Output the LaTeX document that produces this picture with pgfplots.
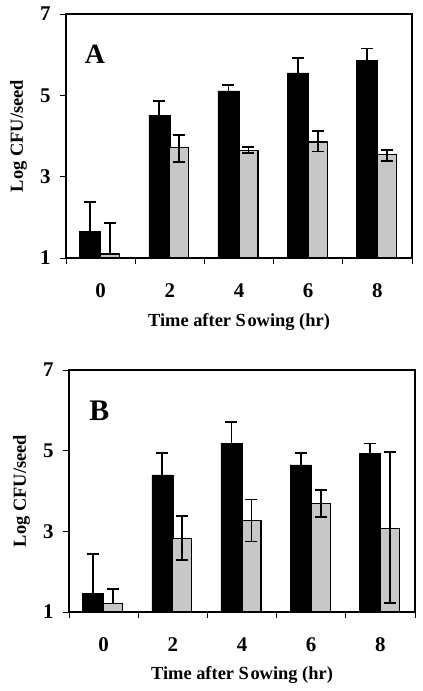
\documentclass[border=0pt]{standalone}
\usepackage{pgfplots}
\pgfplotsset{compat=1.18}
\usepackage{fontspec}
\setmainfont{Liberation Serif}
\definecolor{bargray}{rgb}{0.78,0.78,0.78}
\pgfplotsset{
  panel/.style={
    scale only axis,
    anchor=south west,
    xmin=-0.5, xmax=4.5,
    ymin=1, ymax=7,
    ytick={1,3,5,7},
    xtick={0,1,2,3,4},
    xticklabels={0,2,4,6,8},
    minor xtick={-0.5,0.5,1.5,2.5,3.5,4.5},
    tick pos=left,
    tick align=outside,
    major tick length=6bp,
    minor tick length=6bp,
    every major x tick/.append style={draw=none},
    axis line style={line width=1.4pt},
    every tick/.append style={line width=0.9pt, black},
    /pgf/number format/assume math mode=true,
    tick label style={font=\bfseries\fontsize{21}{21}\selectfont},
    xticklabel style={yshift=-16bp},
    yticklabel style={xshift=-6bp},
    label style={font=\bfseries\fontsize{18.5}{18.5}\selectfont},
    xlabel={Time after S\kern1.5pt owing (hr)},
    ylabel={Log CFU/seed},
    xlabel style={at={(axis description cs:0.5,-0.262)}, anchor=center},
    ylabel style={at={(axis description cs:-0.137,0.5)}, anchor=center},
    ybar,
    clip=true,
  },
  blackbar/.style={draw=black, fill=black, bar width=21bp, bar shift=-10.5bp,
    error bars/.cd, y dir=plus, y explicit,
    error bar style={line width=1.8pt, black},
    error mark options={rotate=90, line width=1.8pt, mark size=6bp, black}},
  graybar/.style={draw=black, line width=1.2pt, fill=bargray, bar width=19bp, bar shift=9.5bp,
    error bars/.cd, y dir=both, y explicit,
    error bar style={line width=1.8pt, black},
    error mark options={rotate=90, line width=1.8pt, mark size=6bp, black}},
}
\begin{document}
\begin{tikzpicture}
\useasboundingbox (0,0) rectangle (423bp,691bp);
% Panel A
\begin{axis}[panel, at={(66bp,433bp)}, width=346bp, height=244bp]
\addplot[blackbar] coordinates {
  (0,1.65) += (0,0.72)
  (1,4.51) += (0,0.36)
  (2,5.11) += (0,0.14)
  (3,5.55) += (0,0.36)
  (4,5.86) += (0,0.29)
};
\addplot[graybar] coordinates {
  (0,1.10) += (0,0.77) -= (0,0)
  (1,3.71) += (0,0.31) -= (0,0.35)
  (2,3.65) += (0,0.07) -= (0,0.07)
  (3,3.85) += (0,0.27) -= (0,0.23)
  (4,3.54) += (0,0.12) -= (0,0.15)
};
\node[font=\bfseries\fontsize{28}{28}\selectfont] at (axis cs:-0.08,6.0) {A};
\end{axis}
% Panel B
\begin{axis}[panel, at={(69bp,79bp)}, width=346bp, height=242bp]
\addplot[blackbar] coordinates {
  (0,1.47) += (0,0.96)
  (1,4.40) += (0,0.54)
  (2,5.18) += (0,0.53)
  (3,4.65) += (0,0.30)
  (4,4.94) += (0,0.24)
};
\addplot[graybar] coordinates {
  (0,1.21) += (0,0.37) -= (0,0)
  (1,2.83) += (0,0.56) -= (0,0.55)
  (2,3.26) += (0,0.53) -= (0,0.51)
  (3,3.70) += (0,0.33) -= (0,0.35)
  (4,3.08) += (0,1.88) -= (0,1.85)
};
\node[font=\bfseries\fontsize{30}{30}\selectfont] at (axis cs:-0.06,6.0) {B};
\end{axis}
\end{tikzpicture}
\end{document}
